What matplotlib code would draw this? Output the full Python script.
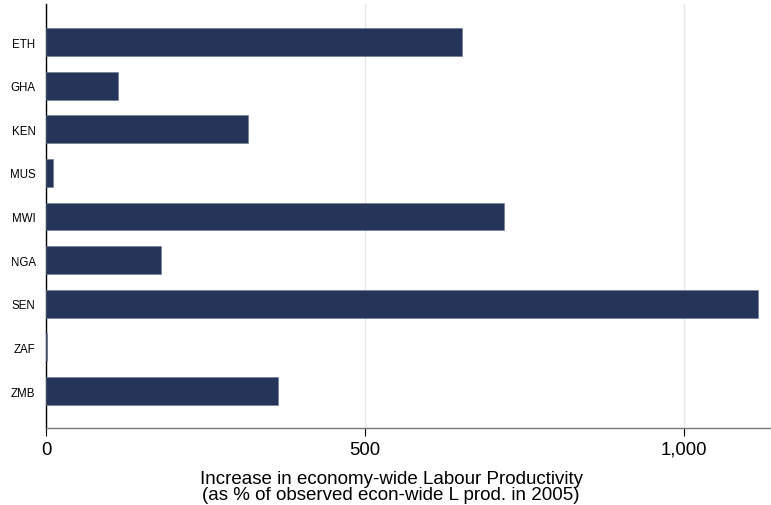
import numpy as np
import matplotlib.pyplot as plt

countries = ["ETH", "GHA", "KEN", "MUS", "MWI", "NGA", "SEN", "ZAF", "ZMB"]
increase = [652, 113, 317, 11, 718, 180, 1116, 1.5, 364]

fig = plt.figure(figsize=(7.71, 5.06), dpi=100)
ax = fig.add_axes([0.0597, 0.152, 0.9403, 0.838])

y = np.arange(len(countries))
ax.barh(y, increase, height=0.64, color="#25355a", edgecolor="#6a7690", linewidth=0.4, zorder=3)

ax.set_ylim(len(countries) - 1 + 0.85, -0.87)
ax.set_xlim(0, 1136)
ax.set_yticks(y)
ax.set_yticklabels(countries, fontsize=8.3)
ax.tick_params(axis="y", length=0, pad=7.5)
ax.set_xticks([0, 500, 1000])
ax.set_xticklabels(["0", "500", "1,000"], fontsize=13.3)
ax.tick_params(axis="x", direction="out", length=6, width=0.8, pad=3)
ax.grid(axis="x", color="#e4e9ed", linewidth=1.0, zorder=0)

for s in ["top", "right"]:
    ax.spines[s].set_visible(False)
ax.spines["left"].set_color("black")
ax.spines["left"].set_linewidth(1.0)
ax.spines["bottom"].set_color("#777777")
ax.spines["bottom"].set_linewidth(1.0)

ax.set_xlabel("Increase in economy-wide Labour Productivity\n(as % of observed econ-wide L prod. in 2005)",
              fontsize=13.5, linespacing=0.95, labelpad=9)
ax.xaxis.label.set_x(0.476)
for lbl in ax.get_yticklabels() + ax.get_xticklabels():
    lbl.set_family("Liberation Sans")
ax.xaxis.label.set_family("Liberation Sans")

fig.savefig("out.png", dpi=100)
